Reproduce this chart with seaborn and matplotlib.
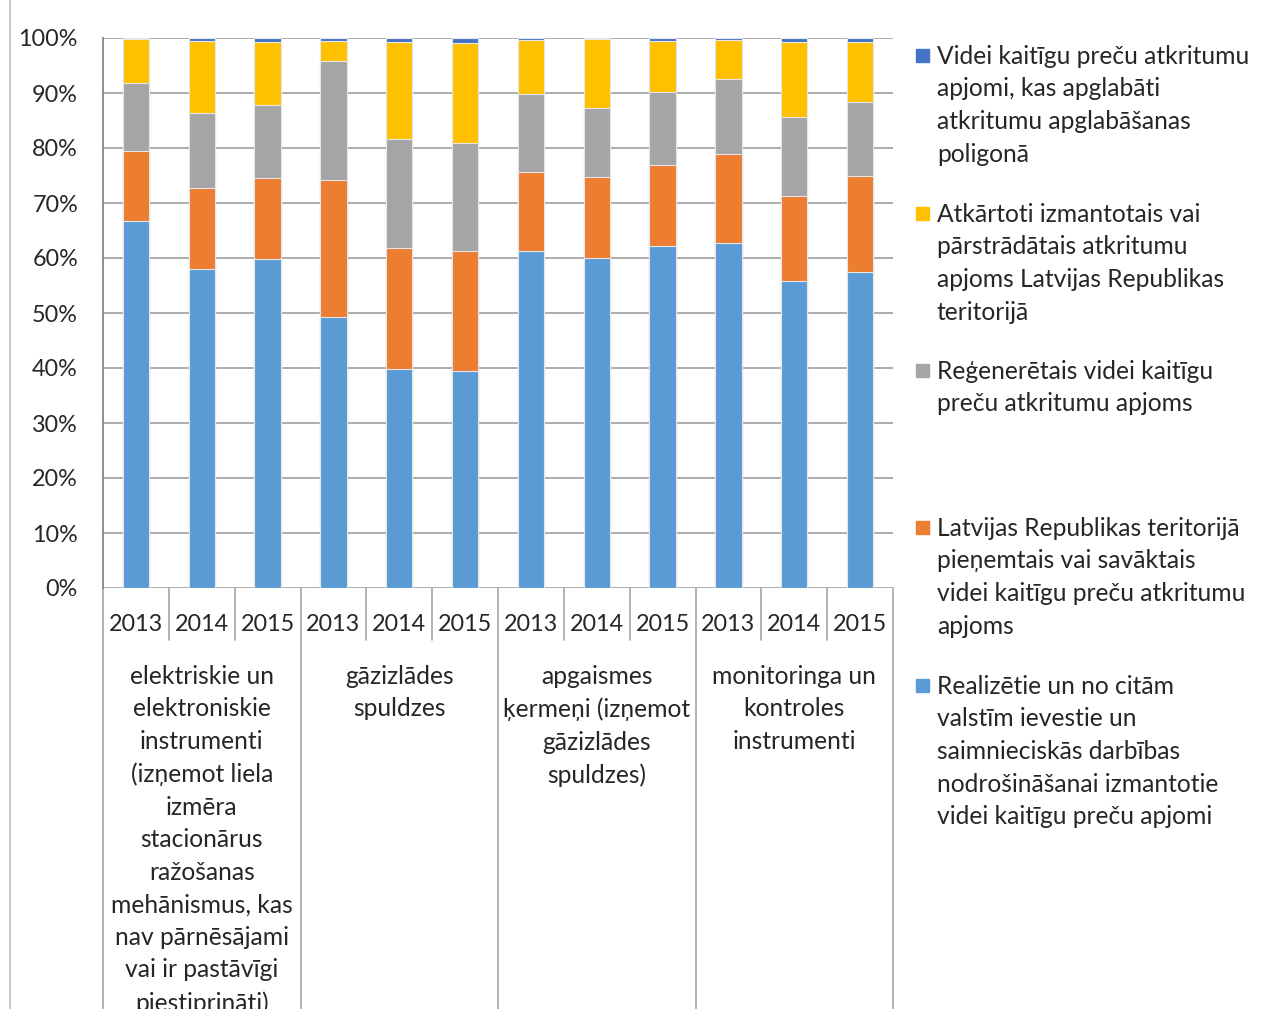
import numpy as np
import pandas as pd
import matplotlib.pyplot as plt
import seaborn as sns
from matplotlib.lines import Line2D
from matplotlib.patches import Rectangle

# ---- data (percent shares) ----
years = ["2013", "2014", "2015"]
groups = [
    "elektriskie un\nelektroniskie\ninstrumenti\n(izņemot liela\nizmēra\nstacionārus\nražošanas\nmehānismus, kas\nnav pārnēsājami\nvai ir pastāvīgi\npiestiprināti)",
    "gāzizlādes\nspuldzes",
    "apgaismes\nķermeņi (izņemot\ngāzizlādes\nspuldzes)",
    "monitoringa un\nkontroles\ninstrumenti",
]

realizetie = [66.8, 58.0, 59.8, 49.3, 39.8, 39.4, 61.2, 60.0, 62.1, 62.7, 55.9, 57.5]
savaktais = [12.7, 14.7, 14.7, 24.9, 22.0, 21.8, 14.5, 14.7, 14.9, 16.3, 15.3, 17.4]
regeneretais = [12.3, 13.6, 13.4, 21.7, 19.9, 19.8, 14.2, 12.6, 13.2, 13.5, 14.4, 13.5]
parstradatais = [8.0, 13.1, 11.4, 3.6, 17.6, 18.1, 9.7, 12.5, 9.3, 7.1, 13.7, 10.9]
apglabati = [0.2, 0.6, 0.7, 0.5, 0.7, 0.9, 0.4, 0.2, 0.5, 0.4, 0.7, 0.7]

series_names = [
    "Videi kaitīgu preču atkritumu\napjomi, kas apglabāti\natkritumu apglabāšanas\npoligonā",
    "Atkārtoti izmantotais vai\npārstrādātais atkritumu\napjoms Latvijas Republikas\nteritorijā",
    "Reģenerētais videi kaitīgu\npreču atkritumu apjoms",
    "Latvijas Republikas teritorijā\npieņemtais vai savāktais\nvidei kaitīgu preču atkritumu\napjoms",
    "Realizētie un no citām\nvalstīm ievestie un\nsaimnieciskās darbības\nnodrošināšanai izmantotie\nvidei kaitīgu preču apjomi",
]
colors = ["#4472C4", "#FFC000", "#A5A5A5", "#ED7D31", "#5B9BD5"]

# ---- build table ----
cats = [f"{g}-{y}" for g in range(len(groups)) for y in years]
stack = np.array([realizetie, savaktais, regeneretais, parstradatais, apglabati])
stack = stack / stack.sum(axis=0) * 100
cum = np.cumsum(stack, axis=0)  # bottom -> top
df = pd.DataFrame({"cat": cats})
for i in range(5):
    df[f"c{i}"] = cum[i]

sns.set_style("white")
plt.rcParams["font.family"] = ["Lato", "DejaVu Sans"]

TXT = 17.7   # words
NUM = 16.8   # numbers
LS = 1.5

W, H = 1263, 1009
fig = plt.figure(figsize=(W / 100, H / 100), dpi=100)
ax = fig.add_axes([103 / W, 1 - 588 / H, 790 / W, 550 / H])

# overlay cumulative bars, tallest first
for i in range(4, -1, -1):
    col = colors[4 - i]
    sns.barplot(data=df, x="cat", y=f"c{i}", order=cats, color=col, width=0.4,
                saturation=1, edgecolor="#e6e6e6", linewidth=0.8, ax=ax, zorder=2)

ax.set_ylim(0, 100)
ax.set_xlim(-0.5, 11.5)
ax.set_yticks(np.arange(0, 101, 10))
ax.set_yticklabels([f"{v}%" for v in range(0, 101, 10)], fontsize=NUM)
ax.yaxis.grid(True, color="#a6a6a6", linewidth=1.3, zorder=0)
ax.set_axisbelow(True)
ax.tick_params(axis="y", length=5, color="#888888", width=1.2, pad=13)
ax.tick_params(axis="x", length=0)
ax.set_xticklabels([])
ax.set_xlabel("")
ax.set_ylabel("")
for s in ["top", "right", "bottom"]:
    ax.spines[s].set_visible(False)
ax.spines["left"].set_color("#888888")
ax.spines["left"].set_linewidth(1.3)

# multi-level category axis
sep = "#a6a6a6"
for k in range(13):
    x = k / 12
    y_end = -0.765 if k % 3 == 0 else -0.095
    ax.add_line(Line2D([x, x], [0, y_end], transform=ax.transAxes, color=sep,
                       lw=1.2, clip_on=False))
for j, c in enumerate(cats):
    ax.text(j, -0.0655, years[j % 3], transform=ax.get_xaxis_transform(),
            ha="center", va="center", fontsize=NUM)
for g, name in enumerate(groups):
    ax.text(g * 3 + 1, -0.14, name, transform=ax.get_xaxis_transform(),
            ha="center", va="top", fontsize=TXT, linespacing=LS)

# left border of the original chart frame
fig.add_artist(Line2D([10 / W, 10 / W], [0, 1], color="#bfbfbf", lw=1.2))

# legend, entries spread evenly as in the original
tops = [55, 213, 370, 527, 685]
for name, col, yc in zip(series_names, colors, tops):
    fig.add_artist(Rectangle((916 / W, 1 - (yc + 7) / H), 13 / W, 13 / H,
                             color=col, transform=fig.transFigure))
    fig.text(937 / W, 1 - (yc - 10) / H, name, ha="left", va="top",
             fontsize=TXT, linespacing=LS)

fig.savefig("out.png", dpi=100)
